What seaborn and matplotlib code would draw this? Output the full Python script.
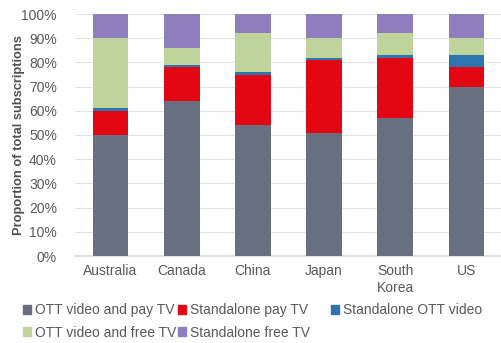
import matplotlib
matplotlib.use("Agg")
import matplotlib.pyplot as plt
import matplotlib.patches as mpatches
import seaborn as sns
import pandas as pd
import numpy as np

countries = ["Australia", "Canada", "China", "Japan", "South\nKorea", "US"]
series_names = ["OTT video and pay TV", "Standalone pay TV", "Standalone OTT video",
                "OTT video and free TV", "Standalone free TV"]
ott_pay = [50, 64, 54, 51, 57, 70]
standalone_pay = [10, 14, 21, 30, 25, 8]
standalone_ott = [1, 1, 1, 1, 1, 5]
ott_free = [29, 7, 16, 8, 9, 7]
standalone_free = [10, 14, 8, 10, 8, 10]
colors = ["#68707F", "#E30613", "#2E75B0", "#BED49A", "#8E7EBE"]
yticks = [0, 10, 20, 30, 40, 50, 60, 70, 80, 90, 100]

sns.set_theme(style="white")
plt.rcParams["font.family"] = ["Liberation Sans", "DejaVu Sans"]

layers = np.array([ott_pay, standalone_pay, standalone_ott, ott_free, standalone_free], dtype=float)
cum = np.cumsum(layers, axis=0)

fig = plt.figure(figsize=(5.02, 3.43), dpi=100)
ax = fig.add_axes([75 / 502, 1 - 256 / 343, 1 - 75 / 502, (256 - 14) / 343])

# Stacked bars: draw cumulative totals from the top segment down so each layer covers the one above
for i in range(len(series_names) - 1, -1, -1):
    df = pd.DataFrame({"country": countries, "value": cum[i]})
    sns.barplot(data=df, x="country", y="value", color=colors[i], width=0.5,
                saturation=1, ax=ax, zorder=3, edgecolor="none")

ax.set_ylim(0, 100)
ax.set_xlim(-0.5, len(countries) - 0.5)
ax.set_yticks(yticks)
ax.set_yticklabels([f"{t}%" for t in yticks])
ax.yaxis.grid(True, color="#E3E3E3", linewidth=0.8, zorder=0)
ax.xaxis.grid(False)
for side in ["left", "right", "top"]:
    ax.spines[side].set_visible(False)
ax.spines["bottom"].set_color("#D9D9D9")
ax.spines["bottom"].set_linewidth(1.2)
ax.tick_params(axis="both", length=0, labelsize=10, labelcolor="#595959")
ax.tick_params(axis="y", pad=13)
ax.tick_params(axis="x", pad=6)
ax.set_xlabel("")
ax.set_ylabel("Proportion of total subscriptions", fontsize=9.3, fontweight="bold",
              color="#505050")
ax.yaxis.set_label_coords(-(75 - 25) / 427, (256 - 135) / 242)

# Legend laid out in three equal-width columns, filled row by row
handles = [mpatches.Patch(color=c) for c in colors]
columns = [[0, 3], [1, 4], [2]]
col_x = [23, 178, 331]
for xpos, idx in zip(col_x, columns):
    fig.legend([handles[k] for k in idx], [series_names[k] for k in idx],
               loc="upper left", bbox_to_anchor=(xpos / 502, 1 - 303 / 343),
               frameon=False, fontsize=10, borderpad=0, borderaxespad=0,
               handlelength=0.6, handleheight=0.6, handletextpad=0.25,
               labelspacing=0.62, labelcolor="#595959")

fig.savefig("out.png", dpi=100)
